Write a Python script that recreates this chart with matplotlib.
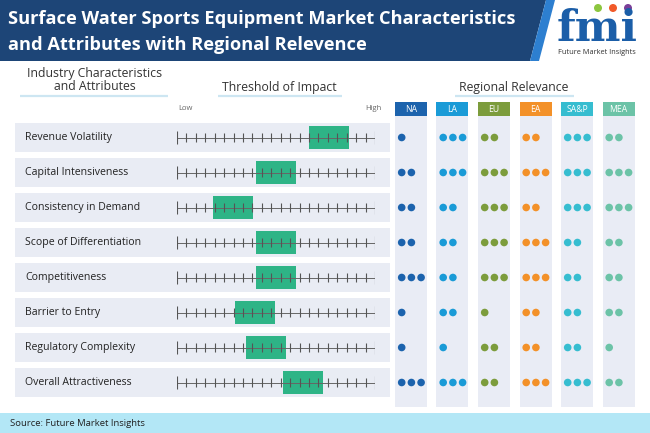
import matplotlib
matplotlib.use("Agg")
import matplotlib.pyplot as plt
from matplotlib.patches import Rectangle, Polygon, Circle

# ---------------- data ----------------
title_lines = ["Surface Water Sports Equipment Market Characteristics",
               "and Attributes with Regional Relevence"]
attributes = ["Revenue Volatility", "Capital Intensiveness", "Consistency in Demand",
              "Scope of Differentiation", "Competitiveness", "Barrier to Entry",
              "Regulatory Complexity", "Overall Attractiveness"]
# centre of the impact band on a 0..21 tick scale (Low -> High)
impact_center = [16.1, 10.5, 5.9, 10.5, 10.5, 8.3, 9.4, 13.4]
impact_width = 4.24
n_intervals = 21
regions = ["NA", "LA", "EU", "EA", "SA&P", "MEA"]
region_colors = ["#1c63ad", "#1a9bd7", "#7c9c3c", "#f39129", "#36bdd0", "#6cc3a7"]
# number of relevance dots per attribute (rows) and region (columns)
relevance = [
    [1, 3, 2, 2, 3, 2],
    [2, 3, 3, 3, 3, 3],
    [2, 2, 3, 2, 3, 3],
    [2, 2, 3, 3, 2, 2],
    [3, 2, 3, 3, 2, 2],
    [1, 2, 1, 2, 2, 2],
    [1, 1, 2, 2, 2, 1],
    [3, 3, 2, 3, 3, 2],
]
source_text = "Source: Future Market Insights"

# ---------------- layout ----------------
W, H = 650, 433
plt.rcParams['font.family'] = ['Open Sans', 'DejaVu Sans']
fig = plt.figure(figsize=(W / 100, H / 100), dpi=100)
fig.patch.set_facecolor("white")

bg = fig.add_axes([0, 0, 1, 1])
bg.set_xlim(0, W)
bg.set_ylim(H, 0)
bg.axis("off")

navy = "#1d4577"
bg.add_patch(Polygon([(0, 0), (546, 0), (530, 61), (0, 61)], closed=True,
                     facecolor=navy, edgecolor="none"))
bg.add_patch(Polygon([(546, 0), (555, 0), (539, 61), (530, 61)], closed=True,
                     facecolor="#2d7fd0", edgecolor="none"))

renderer = fig.canvas.get_renderer()


def fit_text(x, y, s, target_w, **kw):
    t = bg.text(x, y, s, **kw)
    fs = t.get_fontsize()
    for _ in range(3):
        w = t.get_window_extent(renderer=renderer).width
        fs = fs * target_w / w
        t.set_fontsize(fs)
    return t


fit_text(8, 19, title_lines[0], 507, color="white", fontsize=13, fontweight="bold",
         va="center", ha="left")
fit_text(8, 45, title_lines[1], 358, color="white", fontsize=13, fontweight="bold",
         va="center", ha="left")

# logo
fit_text(557, 29, "fmi", 81, color="#1b5ea8", fontsize=26, fontweight="bold",
         ha="left", va="center", family="DejaVu Serif")
for cx, col in zip([598, 613, 628], ["#8cc63f", "#f15a29", "#7b3f98"]):
    bg.add_patch(Circle((cx, 8), 4.0, facecolor=col, edgecolor="none"))
bg.text(597, 53, "Future Market Insights", color="#333333", fontsize=5.3,
        ha="center", va="center")

# section headers
hdr_col = "#333333"
bg.text(95, 73, "Industry Characteristics", ha="center", va="center", fontsize=8.8, color=hdr_col)
bg.text(95, 87, "and Attributes", ha="center", va="center", fontsize=8.8, color=hdr_col)
bg.text(279, 87, "Threshold of Impact", ha="center", va="center", fontsize=8.8, color=hdr_col)
bg.text(514, 87, "Regional Relevance", ha="center", va="center", fontsize=8.8, color=hdr_col)
for x0, x1 in [(20, 168), (218, 342), (455, 574)]:
    bg.plot([x0, x1], [96, 96], color="#cde6f2", lw=1.6, solid_capstyle="butt")
bg.text(178, 108, "Low", ha="left", va="center", fontsize=5.5, color="#666666")
bg.text(381, 108, "High", ha="right", va="center", fontsize=5.5, color="#666666")

# row bands and labels
row0, pitch = 137.5, 35.0
band_h = 29
for i, name in enumerate(attributes):
    yc = row0 + pitch * i
    bg.add_patch(Rectangle((15, yc - band_h / 2), 375, band_h, facecolor="#e9ecf4",
                           edgecolor="none", zorder=1))
    bg.text(25, yc, name, ha="left", va="center", fontsize=7.6, color="#222222", zorder=3)

# source bar
bg.add_patch(Rectangle((0, 413), W, 20, facecolor="#b3e7f6", edgecolor="none"))
bg.text(10, 423, source_text, ha="left", va="center", fontsize=6.8, color="#222222")

# ---------------- threshold axes ----------------
y_top_px, y_bot_px = 102, 407
r_top = (y_top_px - row0) / pitch
r_bot = (y_bot_px - row0) / pitch
x0_px, x1_px = 177, 375
th = fig.add_axes([x0_px / W, 1 - y_bot_px / H, (x1_px - x0_px) / W, (y_bot_px - y_top_px) / H])
th.set_xlim(0, n_intervals)
th.set_ylim(r_bot, r_top)
th.axis("off")
th.patch.set_alpha(0)
for i, c in enumerate(impact_center):
    th.add_patch(Rectangle((c - impact_width / 2, i - 0.315), impact_width, 0.63,
                           facecolor="#2eb486", edgecolor="none", zorder=2))
    th.plot([0, n_intervals], [i, i], color="#666666", lw=0.7, zorder=3)
    for k in range(n_intervals + 1):
        h = 0.19 if k in (0, n_intervals) else 0.12
        th.plot([k, k], [i - h, i + h], color="#555555", lw=0.8, zorder=3,
                solid_capstyle="butt")

# ---------------- regional relevance axes ----------------
col_left_px, col_pitch_px, col_w_px = 395, 41.5, 32
n_reg = len(regions)
reg_w_px = (n_reg - 1) * col_pitch_px + col_w_px
rg = fig.add_axes([col_left_px / W, 1 - y_bot_px / H, reg_w_px / W, (y_bot_px - y_top_px) / H])
rg.set_xlim(0, reg_w_px / col_pitch_px)
rg.set_ylim(r_bot, r_top)
rg.axis("off")
rg.patch.set_alpha(0)
cw = col_w_px / col_pitch_px
hdr_bottom = (116 - row0) / pitch
for j, (reg, col) in enumerate(zip(regions, region_colors)):
    rg.add_patch(Rectangle((j, hdr_bottom), cw, r_bot - hdr_bottom, facecolor="#e9ecf5",
                           edgecolor="none", zorder=1))
    rg.add_patch(Rectangle((j, r_top), cw, hdr_bottom - r_top, facecolor=col,
                           edgecolor="none", zorder=2))
    rg.text(j + cw / 2, (r_top + hdr_bottom) / 2, reg, ha="center", va="center",
            fontsize=6.2, color="white", zorder=3)
    xs, ys = [], []
    for i in range(len(attributes)):
        for k in range(relevance[i][j]):
            xs.append(j + (6.7 + 9.7 * k) / col_pitch_px)
            ys.append(i)
    rg.scatter(xs, ys, s=30, color=col, edgecolors="none", zorder=3)

fig.savefig("out.png", dpi=100, facecolor="white")
